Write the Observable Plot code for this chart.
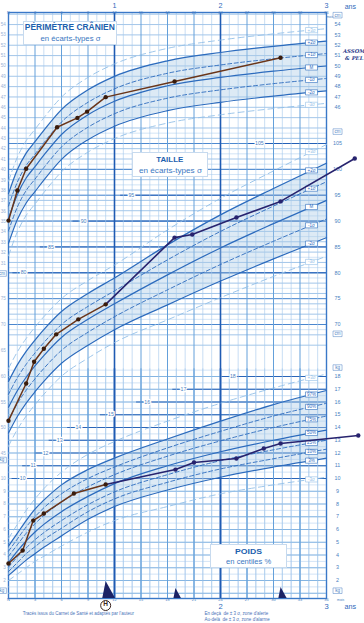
<!DOCTYPE html>
<html><head><meta charset="utf-8">
<script src="https://cdn.jsdelivr.net/npm/d3@7"></script>
<script src="https://cdn.jsdelivr.net/npm/@observablehq/plot@0.6"></script>
<style>
html,body{margin:0;padding:0;background:#fff;}
#wrap{position:relative;width:364px;height:623px;overflow:hidden;font-family:"Liberation Sans",Arial,sans-serif;}
#wrap > svg{position:absolute;left:0;top:0;}
.tbox{position:absolute;box-sizing:border-box;background:#fff;border:0.7px solid #c7daee;text-align:center;line-height:1;}
.assom{position:absolute;font-family:"DejaVu Serif","Liberation Serif",serif;font-style:italic;font-weight:bold;color:#2b3b8c;font-size:5.3px;white-space:nowrap;}
</style></head>
<body><div id="wrap"></div>
<script>
// ---------- reference curves ----------
const months = [0, 1, 2, 3, 4, 6, 9, 12, 18, 24, 30, 36];

// Périmètre crânien (cm)
const headPlus3  = [38.9, 41.2, 42.8, 43.9, 45.0, 47.0, 48.9, 50.2, 51.7, 52.5, 53.1, 53.6];
const headPlus2  = [37.7, 40.0, 41.6, 42.7, 43.8, 45.8, 47.7, 49.0, 50.5, 51.3, 51.9, 52.4];
const headPlus1  = [36.5, 38.8, 40.4, 41.5, 42.6, 44.6, 46.5, 47.8, 49.3, 50.1, 50.7, 51.2];
const headM      = [35.3, 37.6, 39.2, 40.3, 41.4, 43.4, 45.3, 46.6, 48.1, 48.9, 49.5, 50.0];
const headMinus1 = [34.1, 36.4, 38.0, 39.1, 40.2, 42.2, 44.1, 45.4, 46.9, 47.7, 48.3, 48.8];
const headMinus2 = [32.9, 35.2, 36.8, 37.9, 39.0, 41.0, 42.9, 44.2, 45.7, 46.5, 47.1, 47.6];
const headMinus3 = [31.7, 34.0, 35.6, 36.7, 37.8, 39.8, 41.7, 43.0, 44.5, 45.3, 45.9, 46.4];

// Taille (cm)
const htPlus3  = [61.5, 64.7, 67.3, 69.5, 71.5, 75.0, 78.5, 81.5, 88.3, 94.4, 99.7, 104.8];
const htPlus2  = [59.0, 62.2, 64.8, 67.0, 69.0, 72.5, 76.0, 79.0, 85.4, 91.2, 96.3, 101.2];
const htPlus1  = [56.5, 59.7, 62.3, 64.5, 66.5, 70.0, 73.5, 76.5, 82.5, 88.0, 92.9, 97.6];
const htM      = [54.0, 57.2, 59.8, 62.0, 64.0, 67.5, 71.0, 74.0, 79.6, 84.8, 89.5, 94.0];
const htMinus1 = [51.5, 54.7, 57.3, 59.5, 61.5, 65.0, 68.5, 71.5, 76.7, 81.6, 86.1, 90.4];
const htMinus2 = [49.0, 52.2, 54.8, 57.0, 59.0, 62.5, 66.0, 69.0, 73.8, 78.4, 82.7, 86.8];
const htMinus3 = [46.5, 49.7, 52.3, 54.5, 56.5, 60.0, 63.5, 66.5, 70.9, 75.2, 79.3, 83.2];

// Poids (kg), centiles
const wHigh = [5.3, 6.4, 7.5, 8.4, 9.2, 10.5, 11.9, 12.9, 14.5, 15.9, 17.1, 18.2];
const w97 = [4.7, 5.7, 6.7, 7.6, 8.3, 9.5, 10.7, 11.6, 13.1, 14.5, 15.8, 16.9];
const w90 = [4.3, 5.25, 6.2, 7.0, 7.7, 8.8, 10.0, 10.9, 12.4, 13.7, 14.9, 15.9];
const w75 = [3.9, 4.8, 5.7, 6.45, 7.1, 8.15, 9.35, 10.3, 11.75, 12.95, 14.0, 14.9];
const w50 = [3.4, 4.3, 5.1, 5.8, 6.4, 7.4, 8.6, 9.6, 11.0, 12.1, 13.0, 13.8];
const w25 = [3.05, 3.85, 4.55, 5.2, 5.75, 6.7, 7.95, 8.95, 10.3, 11.4, 12.25, 13.0];
const w10 = [2.7, 3.4, 4.1, 4.65, 5.2, 6.1, 7.4, 8.4, 9.7, 10.75, 11.55, 12.3];
const w3  = [2.4, 3.0, 3.6, 4.1, 4.6, 5.5, 6.8, 7.8, 9.1, 10.1, 10.9, 11.6];
const wLow = [2.0, 2.5, 3.0, 3.5, 3.9, 4.7, 5.8, 6.7, 7.8, 8.8, 9.5, 10.1];

// ---------- child measurements ----------
const headAge = [0, 1.0, 2.0, 5.5, 7.8, 8.9, 11.0, 18.8, 30.8];
const headVal = [35.1, 38.0, 40.1, 44.1, 45.0, 45.6, 47.0, 48.5, 50.8];
const htAge = [0, 2.0, 2.9, 4.0, 5.4, 7.9, 11.0, 18.8, 20.8, 25.8, 30.8, 39.2];
const htVal = [51.4, 58.6, 62.8, 65.3, 68.1, 71.0, 73.9, 86.8, 87.4, 90.7, 93.8, 102.1];
const wAge = [0, 1.6, 2.8, 4.0, 7.4, 11.0, 18.9, 21.0, 25.8, 28.9, 30.8, 39.6];
const wVal = [3.33, 4.35, 6.7, 7.25, 8.82, 9.53, 10.7, 11.25, 11.57, 12.35, 12.75, 13.37];
const markerAge = [11.0, 18.9, 30.8];
const markerHeight = [17, 10, 11];

// ---------- labels ----------
const topMonths = [0, 3, 6, 9, 12, 15, 18, 21, 24, 27, 30, 33, 36];
const topMonthText = ["N", "3", "6", "9", "12", "15", "18", "21", "24", "27", "30", "33", "36"];
const yearMonths = [12, 24, 36];
const yearText = ["1", "2", "3"];
const sigmaText = ["+3σ", "+2σ", "+1σ", "M", "-1σ", "-2σ", "-3σ"];
const centileText = ["97%", "90%", "75%", "50%", "25%", "10%", "3%"];
const headRightTicks = [46, 47, 48, 49, 50, 51, 52, 53, 54];
const headLeftTicks = d3.range(31, 55);
const htRightTicks = [70, 75, 80, 85, 90, 95, 100, 105];
const htLeftTicks = [45, 50, 55, 60, 65, 70, 75];
const wRightTicks = d3.range(2, 19);
const wLeftTicks = d3.range(2, 11);
const htInnerValues = [80, 85, 90, 95, 105];
const htInnerMonths = [1.7, 4.8, 8.5, 13.9, 28.4];
const wInnerValues = [10, 11, 12, 13, 14, 15, 16, 17, 18];
const wInnerMonths = [1.6, 2.8, 4.2, 5.8, 7.9, 11.6, 15.7, 19.8, 25.4];
const footLeft = "Tracés issus du Carnet de Santé et adaptés par l'auteur";
const footRight1 = "En deçà  de ± 3 σ, zone d'alerte";
const footRight2 = "Au-delà  de ± 3 σ, zone d'alarme";

// ---------- styles ----------
const FONT = "Liberation Sans, Arial, sans-serif";
const BLUE = "#2c6bbd", LIGHT = "#93c0e8", SHADE = "#a9cbe6";
const GTHIN = "#a4c8ec", GMED = "#64a0da", GDARK = "#3f7fcb", GBOLD = "#1f5bb3";
const TXT = "#4a7fc2", TXTL = "#9ab3d6";
const BROWN = "#6a3519", BROWNDOT = "#3a1c0c", NAVY = "#27236e";

const base = {
  width: 364, height: 623, marginLeft: 8, marginRight: 38, marginTop: 12, marginBottom: 25,
  x: {domain: [0, 36], axis: null},
  style: {background: "transparent", overflow: "visible", fontFamily: FONT}
};
const rows = (xs, vs) => xs.map((m, i) => ({m, v: vs[i]}));
function at(arr, m) {
  for (let i = 1; i < months.length; i++) {
    if (m <= months[i]) { const t = (m - months[i-1]) / (months[i] - months[i-1]); return arr[i-1] + t * (arr[i] - arr[i-1]); }
  }
  return arr[arr.length - 1];
}
const boxSym = {draw(ctx) { ctx.rect(-6, -2.6, 12, 5.2); }};
const unitSym = {draw(ctx) { ctx.rect(-4.5, -2.8, 9, 5.6); }};
const LABX = 34.3;

function curveMarks(list) {
  const out = [];
  for (const c of list) {
    const st = c.kind === "solid" ? {stroke: BLUE, strokeWidth: 1.2}
      : c.kind === "dashed" ? {stroke: BLUE, strokeWidth: 0.9, strokeDasharray: "4,2.5"}
      : {stroke: LIGHT, strokeWidth: 0.9, strokeDasharray: "6,4"};
    out.push(Plot.line(rows(months, c.arr), {x: "m", y: "v", curve: "monotone-x", ...st}));
  }
  const lab = list.map(c => ({label: c.label, v: at(c.arr, LABX), light: c.kind === "light"}));
  out.push(Plot.dot(lab.filter(d => !d.light), {x: LABX, y: "v", symbol: boxSym, r: 1, fill: "white", stroke: BLUE, strokeWidth: 0.6}));
  out.push(Plot.dot(lab.filter(d => d.light), {x: LABX, y: "v", symbol: boxSym, r: 1, fill: "white", stroke: LIGHT, strokeWidth: 0.6}));
  out.push(Plot.text(lab.filter(d => !d.light), {x: LABX, y: "v", text: "label", fontSize: 4.5, fill: BLUE}));
  out.push(Plot.text(lab.filter(d => d.light), {x: LABX, y: "v", text: "label", fontSize: 4.5, fill: LIGHT}));
  return out;
}
function band(lo, hi) {
  return Plot.areaY(months.map((m, i) => ({m, lo: lo[i], hi: hi[i]})), {x: "m", y1: "lo", y2: "hi", fill: SHADE, fillOpacity: 0.4, curve: "monotone-x"});
}
const rightTicks = (ticks) => Plot.text(ticks, {x: 37.25, y: d => d, text: d => String(d), fontSize: 5.4, fill: TXT});
const leftTicks = (ticks) => Plot.text(ticks, {x: -0.3, y: d => d, text: d => String(d), fontSize: 4.6, fill: TXTL, textAnchor: "end"});
const unitBox = (vals, txt, xm) => [
  Plot.dot(vals, {x: xm, y: d => d, symbol: unitSym, r: 1, fill: "white", stroke: TXT, strokeWidth: 0.5}),
  Plot.text(vals, {x: xm, y: d => d, text: () => txt, fontSize: 4.5, fill: TXT})
];

// ---------- grid (height/head zone, y = height cm) ----------
const monthTicks = d3.range(0, 37);
const gridHH = Plot.plot({
  ...base,
  y: {domain: [70, 105], range: [324, 143], axis: null},
  marks: [
    Plot.ruleY(d3.range(69, 108, 2), {stroke: GTHIN, strokeWidth: 0.5}),
    Plot.ruleY(d3.range(66, 131, 2), {stroke: GMED, strokeWidth: 0.6}),
    Plot.ruleY(d3.range(70, 106, 5), {stroke: GDARK, strokeWidth: 0.9}),
    Plot.ruleY(rows(htInnerMonths, htInnerValues), {y: "v", x1: d => d.m - 1.2, x2: 36, stroke: GBOLD, strokeWidth: 0.9}),
    Plot.ruleX(monthTicks.filter(m => m % 3), {stroke: GTHIN, strokeWidth: 0.6}),
    Plot.ruleX(monthTicks.filter(m => m % 3 === 0 && m % 12), {stroke: GMED, strokeWidth: 1}),
    Plot.ruleX([12, 24], {stroke: GBOLD, strokeWidth: 1.6}),
    Plot.frame({stroke: "#3a78c8", strokeWidth: 1.4}),
    Plot.text(rows(htInnerMonths, htInnerValues), {x: "m", y: "v", text: d => String(d.v), fontSize: 5.2, fill: TXT, stroke: "white", strokeWidth: 2.5}),
    rightTicks(htRightTicks),
    leftTicks(htLeftTicks),
    ...unitBox([107.3, 68.2], "cm", 37.25),
    // month labels (top)
    Plot.text(topMonths, {x: d => d, text: (d, i) => topMonthText[i], frameAnchor: "top", dy: -1.6, fontSize: 3.9, fill: TXT}),
    Plot.text(yearMonths, {x: d => d, text: (d, i) => yearText[i], frameAnchor: "top", dy: -9.2, fontSize: 7.2, fill: "#2f69bb"}),
    Plot.text(["ans"], {x: 38.7, text: d => d, frameAnchor: "top", dy: -8.6, fontSize: 7, fill: "#2f69bb"}),
    Plot.text(["mois"], {x: 36.4, text: d => d, frameAnchor: "top", dy: 2.6, fontSize: 3.4, fill: TXT}),
    // month labels (bottom)
    Plot.text(topMonths, {x: d => d, text: (d, i) => topMonthText[i], frameAnchor: "bottom", dy: 2.1, fontSize: 3.9, fill: TXT}),
    Plot.text(yearMonths.slice(1), {x: d => d, text: (d, i) => yearText[i + 1], frameAnchor: "bottom", dy: 10.2, fontSize: 7.6, fill: "#2f69bb"}),
    Plot.text(["ans"], {x: 38.7, text: d => d, frameAnchor: "bottom", dy: 10.2, fontSize: 7.2, fill: "#2f69bb"}),
    Plot.text(["mois"], {x: 37.6, text: d => d, frameAnchor: "bottom", dy: 2.1, fontSize: 3.4, fill: TXT}),
    // (H) marker
    Plot.dot([11], {x: d => d, frameAnchor: "bottom", dy: 7, r: 5, fill: "white", stroke: "#3a2420", strokeWidth: 1}),
    Plot.text(["H"], {x: 11, text: d => d, frameAnchor: "bottom", dy: 7, fontSize: 6.5, fontWeight: "bold", fill: "#3a2420"}),
    // footer
    Plot.text([footLeft], {x: 1.6, text: d => d, frameAnchor: "bottom", dy: 16, fontSize: 4.5, fill: "#4a73b8", textAnchor: "start"}),
    Plot.text([footRight1], {x: 22.2, text: d => d, frameAnchor: "bottom", dy: 16, fontSize: 4.5, fill: "#4a73b8", textAnchor: "start"}),
    Plot.text([footRight2], {x: 22.2, text: d => d, frameAnchor: "bottom", dy: 22, fontSize: 4.5, fill: "#4a73b8", textAnchor: "start"})
  ]
});

// ---------- grid (weight zone, y = kg) ----------
const gridW = Plot.plot({
  ...base,
  y: {domain: [2, 18], range: [580, 376], axis: null},
  marks: [
    Plot.ruleY(d3.range(1, 18.6, 0.5), {stroke: GTHIN, strokeWidth: 0.5}),
    Plot.ruleY(d3.range(1, 19), {stroke: GMED, strokeWidth: 0.7}),
    Plot.ruleY(rows(wInnerMonths, wInnerValues), {y: "v", x1: d => d.m - 1.2, x2: 36, stroke: GBOLD, strokeWidth: 0.9}),
    Plot.ruleX(monthTicks.filter(m => m % 3), {y1: 0.6, y2: 18.6, stroke: GTHIN, strokeWidth: 0.6}),
    Plot.ruleX(monthTicks.filter(m => m % 3 === 0 && m % 12), {y1: 0.6, y2: 18.6, stroke: GMED, strokeWidth: 1}),
    Plot.ruleX([12, 24], {y1: 0.6, y2: 18.6, stroke: GBOLD, strokeWidth: 1.6}),
    Plot.text(rows(wInnerMonths, wInnerValues), {x: "m", y: "v", text: d => String(d.v), fontSize: 5.2, fill: TXT, stroke: "white", strokeWidth: 2.5}),
    rightTicks(wRightTicks),
    leftTicks(wLeftTicks),
    ...unitBox([18.7, 1.2], "kg", 37.25),
    ...unitBox([11.45, 1.2], "kg", -0.75)
  ]
});

// ---------- head circumference ----------
const headPlot = Plot.plot({
  ...base,
  y: {domain: [46, 54], range: [107, 24], axis: null},
  marks: [
    band(headMinus2, headPlus2),
    ...curveMarks([
      {arr: headPlus3, kind: "light", label: sigmaText[0]},
      {arr: headPlus2, kind: "solid", label: sigmaText[1]},
      {arr: headPlus1, kind: "dashed", label: sigmaText[2]},
      {arr: headM, kind: "solid", label: sigmaText[3]},
      {arr: headMinus1, kind: "dashed", label: sigmaText[4]},
      {arr: headMinus2, kind: "solid", label: sigmaText[5]},
      {arr: headMinus3, kind: "light", label: sigmaText[6]}
    ]),
    rightTicks(headRightTicks),
    leftTicks(headLeftTicks),
    ...unitBox([54.9], "cm", 37.25),
    ...unitBox([30.0], "cm", -0.75),
    Plot.line(rows(headAge, headVal), {x: "m", y: "v", stroke: BROWN, strokeWidth: 1.5}),
    Plot.dot(rows(headAge, headVal), {x: "m", y: "v", r: 2.2, fill: BROWNDOT})
  ]
});

// ---------- height ----------
const htRows = rows(htAge, htVal);
const heightPlot = Plot.plot({
  ...base,
  y: {domain: [70, 105], range: [324, 143], axis: null},
  marks: [
    band(htMinus2, htPlus2),
    ...curveMarks([
      {arr: htPlus3, kind: "light", label: sigmaText[0]},
      {arr: htPlus2, kind: "solid", label: sigmaText[1]},
      {arr: htPlus1, kind: "dashed", label: sigmaText[2]},
      {arr: htM, kind: "solid", label: sigmaText[3]},
      {arr: htMinus1, kind: "dashed", label: sigmaText[4]},
      {arr: htMinus2, kind: "solid", label: sigmaText[5]},
      {arr: htMinus3, kind: "light", label: sigmaText[6]}
    ]),
    Plot.line(htRows.slice(0, 7), {x: "m", y: "v", stroke: BROWN, strokeWidth: 1.5}),
    Plot.line(htRows.slice(6), {x: "m", y: "v", stroke: NAVY, strokeWidth: 1.6}),
    Plot.dot(htRows.slice(0, 7), {x: "m", y: "v", r: 2.2, fill: BROWNDOT}),
    Plot.dot(htRows.slice(7), {x: "m", y: "v", r: 2.2, fill: NAVY})
  ]
});

// ---------- weight ----------
const wRows = rows(wAge, wVal);
const sail = {draw(ctx, size) { const h = 2 * Math.sqrt(size / Math.PI); ctx.moveTo(0, -h); ctx.lineTo(0.55 * h, 0); ctx.lineTo(-0.2 * h, 0); ctx.closePath(); }};
const weightPlot = Plot.plot({
  ...base,
  y: {domain: [2, 18], range: [580, 376], axis: null},
  marks: [
    band(w3, w97),
    ...curveMarks([
      {arr: wHigh, kind: "light", label: "+3σ"},
      {arr: w97, kind: "solid", label: centileText[0]},
      {arr: w90, kind: "dashed", label: centileText[1]},
      {arr: w75, kind: "dashed", label: centileText[2]},
      {arr: w50, kind: "solid", label: centileText[3]},
      {arr: w25, kind: "dashed", label: centileText[4]},
      {arr: w10, kind: "dashed", label: centileText[5]},
      {arr: w3, kind: "solid", label: centileText[6]},
      {arr: wLow, kind: "light", label: "-3σ"}
    ]),
    Plot.line(wRows.slice(0, 6), {x: "m", y: "v", stroke: BROWN, strokeWidth: 1.5}),
    Plot.line(wRows.slice(5), {x: "m", y: "v", stroke: NAVY, strokeWidth: 1.6}),
    Plot.dot(wRows.slice(0, 6), {x: "m", y: "v", r: 2.2, fill: BROWNDOT}),
    Plot.dot(wRows.slice(6), {x: "m", y: "v", r: 2.2, fill: NAVY}),
    ...markerAge.map((m, i) => Plot.dot([m], {x: d => d, frameAnchor: "bottom", dy: -0.5, symbol: sail, r: markerHeight[i] / 2, fill: "#1c2366"}))
  ]
});

const wrap = document.getElementById("wrap");
[gridHH, gridW, headPlot, heightPlot, weightPlot].forEach(p => wrap.appendChild(p));

function titleBox(b) {
  const d = document.createElement("div");
  d.className = "tbox";
  Object.assign(d.style, {left: b.x + "px", top: b.y + "px", width: b.w + "px", height: b.h + "px"});
  wrap.appendChild(d);
  for (const l of b.lines) {
    const row = document.createElement("div");
    Object.assign(row.style, {position: "absolute", left: "0", width: "100%", top: (l.cy - b.y - l.size * 0.55) + "px",
      fontSize: l.size + "px", lineHeight: "1.1", fontWeight: l.bold ? "bold" : "normal", color: l.bold ? "#1d5fae" : "#3b78c2"});
    const s = document.createElement("span");
    s.textContent = l.t;
    Object.assign(s.style, {display: "inline-block", whiteSpace: "nowrap"});
    row.appendChild(s);
    d.appendChild(row);
    const w = s.getBoundingClientRect().width;
    s.style.transform = `scaleX(${l.w / w})`;
  }
}
titleBox({x: 23, y: 21, w: 94, h: 24, lines: [
  {t: "PÉRIMÈTRE CRÂNIEN", size: 8.6, bold: true, cy: 27, w: 90},
  {t: "en écarts-types σ", size: 6.6, cy: 38, w: 60}]});
titleBox({x: 132, y: 152, w: 76, h: 25, lines: [
  {t: "TAILLE", size: 8, bold: true, cy: 159, w: 27},
  {t: "en écarts-types σ", size: 6.6, cy: 170, w: 63}]});
titleBox({x: 210, y: 544, w: 77, h: 24, lines: [
  {t: "POIDS", size: 8, bold: true, cy: 551.5, w: 27},
  {t: "en centiles %", size: 6.6, cy: 561, w: 45}]});

const a1 = document.createElement("div"); a1.className = "assom"; a1.textContent = "ASSOM";
Object.assign(a1.style, {left: "343px", top: "48px"}); wrap.appendChild(a1);
const a2 = document.createElement("div"); a2.className = "assom"; a2.textContent = "& PEL";
Object.assign(a2.style, {left: "345px", top: "55px"}); wrap.appendChild(a2);
</script>
</body></html>
